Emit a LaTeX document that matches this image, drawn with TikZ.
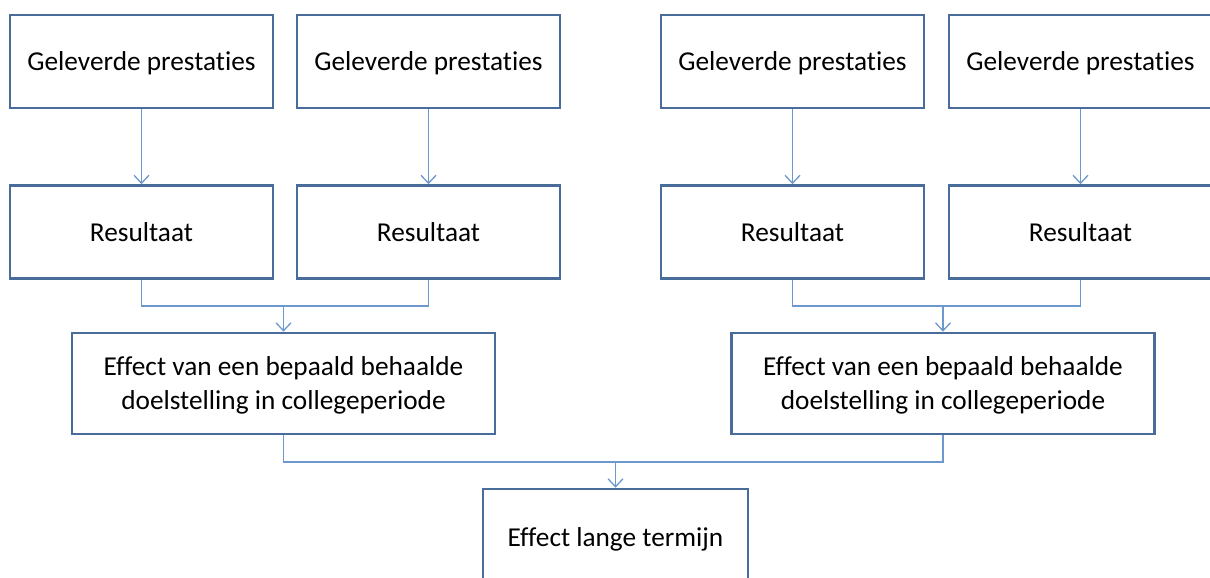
\documentclass[tikz,border=0pt]{standalone}
\usepackage{fontspec}
\setmainfont[Ligatures=NoCommon]{Carlito}
\usepackage{tikz}
\usetikzlibrary{arrows.meta}
\definecolor{boxline}{HTML}{4A6C9B}
\definecolor{linkline}{HTML}{6D98CE}
\tikzset{
  block/.style={draw=boxline, line width=2.6pt, fill=white, align=center,
    inner sep=0pt, text depth=0pt, font=\fontsize{27.3}{34}\selectfont},
  link/.style={draw=linkline, line width=1.3pt, -{Straight Barb[length=8pt,width=15pt,line width=1.3pt]}},
  joint/.style={draw=linkline, line width=1.3pt}
}

\begin{document}
\begin{tikzpicture}[x=1pt,y=-1pt]
	% frame
	\useasboundingbox (0,0) rectangle (1210,578);
	\clip (0,0) rectangle (1210,578);
	
	% top row
	\node[block, minimum width=263pt, minimum height=93pt] (g1) at (141.5,61.5) {Geleverde prestaties};
	\node[block, minimum width=263pt, minimum height=93pt] (g2) at (428.5,61.5) {Geleverde prestaties};
	\node[block, minimum width=263pt, minimum height=93pt] (g3) at (792.5,61.5) {Geleverde prestaties};
	\node[block, minimum width=263pt, minimum height=93pt] (g4) at (1080.5,61.5) {Geleverde prestaties};
	
	% results
	\node[block, minimum width=263pt, minimum height=93pt] (r1) at (141.5,232) {Resultaat};
	\node[block, minimum width=263pt, minimum height=93pt] (r2) at (428.5,232) {Resultaat};
	\node[block, minimum width=263pt, minimum height=93pt] (r3) at (792.5,232) {Resultaat};
	\node[block, minimum width=263pt, minimum height=93pt] (r4) at (1080.5,232) {Resultaat};
	
	% effects
	\node[block, minimum width=423pt, minimum height=101pt] (e1) at (283.5,383.5) {Effect van een bepaald behaalde\\doelstelling in collegeperiode};
	\node[block, minimum width=423pt, minimum height=101pt] (e2) at (943,383.5) {Effect van een bepaald behaalde\\doelstelling in collegeperiode};
	\node[block, minimum width=265pt, minimum height=96pt] (lt) at (615.5,537) {Effect lange termijn};
	
	% arrows
	\foreach \i in {1,2,3,4}
	  \draw[link] (g\i) -- (r\i);
	\coordinate (j1) at (0,306);
	\coordinate (j2) at (0,462);
	\draw[joint] (r1.south) |- (r2.south |- j1) -- (r2.south);
	\draw[joint] (r3.south) |- (r4.south |- j1) -- (r4.south);
	\draw[link] (e1.north |- j1) -- (e1.north);
	\draw[link] (e2.north |- j1) -- (e2.north);
	\draw[joint] (e1.south) |- (e2.south |- j2) -- (e2.south);
	\draw[link] (lt.north |- j2) -- (lt.north);
\end{tikzpicture}
\end{document}
